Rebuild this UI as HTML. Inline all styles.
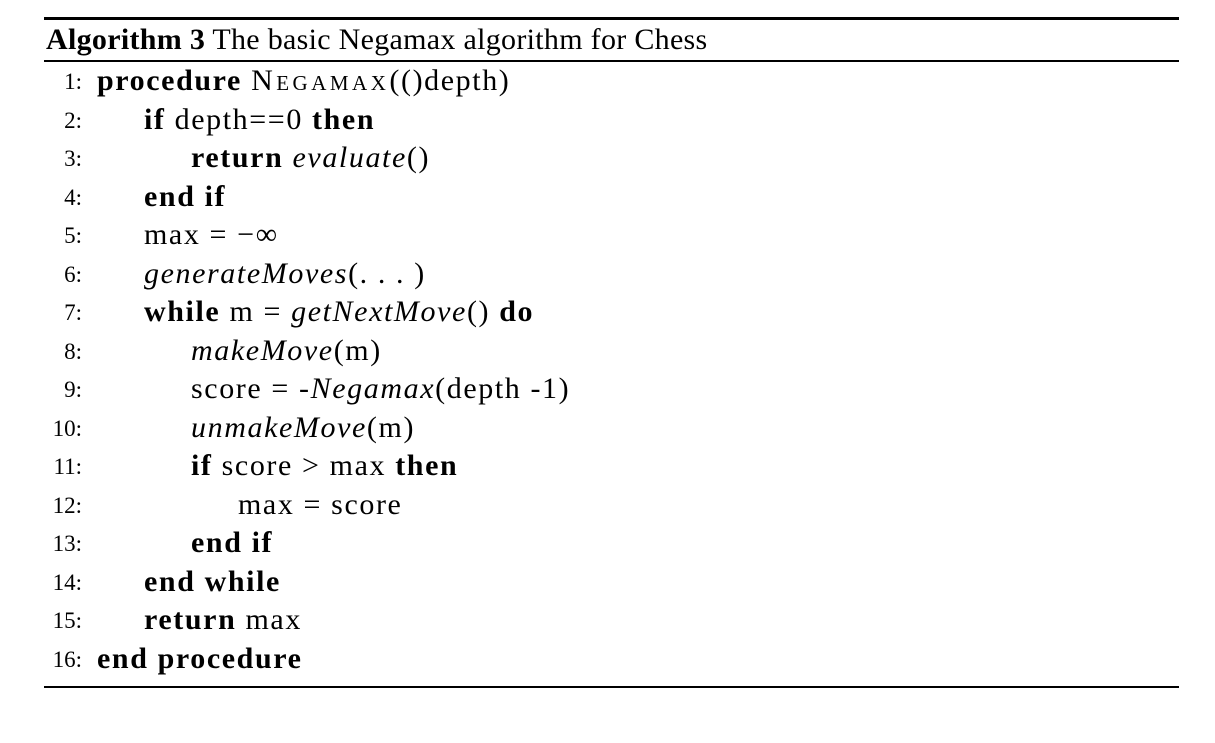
<!DOCTYPE html>
<html><head><meta charset="utf-8"><style>
body{margin:0;width:1215px;height:743px;background:#fff;position:relative;font-family:"Liberation Serif",serif;color:#000;overflow:hidden}
.rule{position:absolute;left:44px;width:1135px;background:#000}
.ln{position:absolute;height:38px;line-height:38px;font-size:30px;letter-spacing:1.6px;white-space:nowrap}
.num{position:absolute;width:38px;text-align:right;left:44px;font-size:23px;height:38px;line-height:40px}
b{font-weight:bold}
.sc{font-variant:small-caps;letter-spacing:3.5px}
</style></head><body>
<div class="rule" style="top:17px;height:3px"></div>
<div class="ln" style="top:21px;left:46px;letter-spacing:0.3px"><b>Algorithm 3</b> The basic Negamax algorithm for Chess</div>
<div class="rule" style="top:60px;height:1.5px"></div>
<div id="lines"></div>
<div class="rule" style="top:686px;height:1.5px"></div>
<script>
const lines=[
[0,'<b>procedure</b> <span class="sc">Negamax</span>(()depth)'],
[1,'<b>if</b> depth==0 <b>then</b>'],
[2,'<b>return</b> <i>evaluate</i>()'],
[1,'<b>end if</b>'],
[1,'max = &minus;&infin;'],
[1,'<i>generateMoves</i>(. . . )'],
[1,'<b>while</b> m = <i>getNextMove</i>() <b>do</b>'],
[2,'<i>makeMove</i>(m)'],
[2,'score = -<i>Negamax</i>(depth -1)'],
[2,'<i>unmakeMove</i>(m)'],
[2,'<b>if</b> score &gt; max <b>then</b>'],
[3,'max = score'],
[2,'<b>end if</b>'],
[1,'<b>end while</b>'],
[1,'<b>return</b> max'],
[0,'<b>end procedure</b>']];
const c=document.getElementById('lines');
lines.forEach((l,i)=>{
 const top=62+38.5*i;
 const n=document.createElement('div');n.className='num';n.style.top=top+'px';n.textContent=(i+1)+':';
 
 
 c.appendChild(n);
 const d=document.createElement('div');d.className='ln';d.style.top=top+'px';d.style.left=(97+47*l[0])+'px';d.innerHTML=l[1];
 
 
 c.appendChild(d);
});
</script>
</body></html>
